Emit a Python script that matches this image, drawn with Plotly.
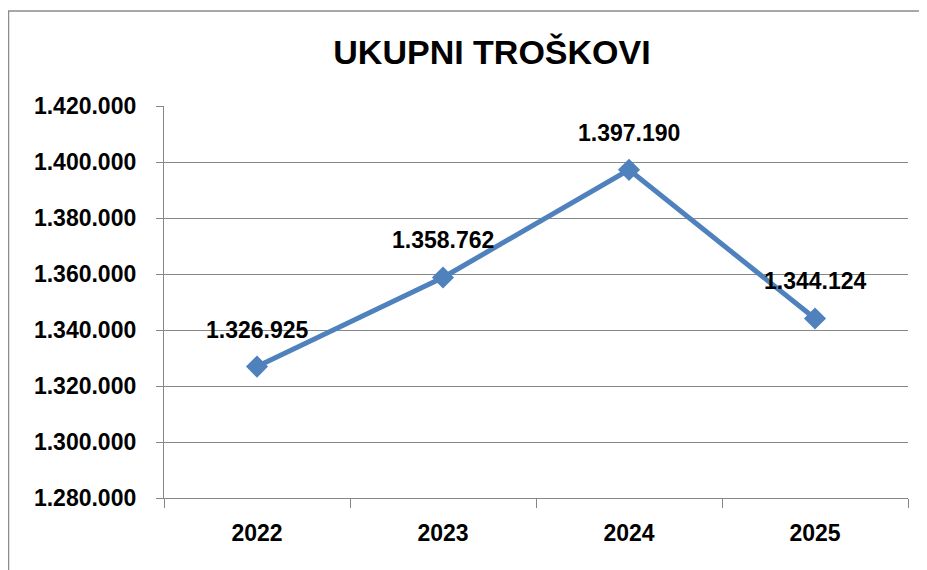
import plotly.graph_objects as go

years = ["2022", "2023", "2024", "2025"]
costs = [1326925, 1358762, 1397190, 1344124]
y_ticks = [1280000, 1300000, 1320000, 1340000, 1360000, 1380000, 1400000, 1420000]


def fmt(v):
    return f"{v:,}".replace(",", ".")


FONT = "Liberation Sans"
GRID = "#878787"
BLUE = "#4f81bd"
W, H = 919, 562  # the page body adds an 8px offset

pos = list(range(len(years)))
bounds = [p - 0.5 for p in pos] + [pos[-1] + 0.5]

fig = go.Figure()
fig.add_trace(
    go.Scatter(
        x=pos,
        y=costs,
        mode="lines+markers",
        line={"color": BLUE, "width": 5},
        marker={"symbol": "diamond", "size": 17, "color": BLUE},
        showlegend=False,
        hoverinfo="skip",
    )
)

for p, v in zip(pos, costs):
    fig.add_annotation(
        x=p, y=v, xref="x", yref="y", text=f"<b>{fmt(v)}</b>", showarrow=False,
        yshift=37, font={"family": FONT, "size": 23, "color": "#000000"},
    )

# outer chart border (partially cropped)
fig.add_shape(
    type="rect", xref="paper", yref="paper",
    x0=-0.209, x1=1.04, y0=-0.22, y1=1.2423,
    line={"color": "#8c8c8c", "width": 1.5}, fillcolor="rgba(0,0,0,0)", layer="below",
)

fig.update_xaxes(
    range=[bounds[0], bounds[-1]],
    tickvals=pos,
    ticktext=[f"<b>{y}</b>" for y in years],
    ticks="",
    minor={"tickvals": bounds, "ticks": "outside", "ticklen": 9,
           "tickcolor": GRID, "tickwidth": 1.3, "showgrid": False},
    tickangle=0,
    showgrid=False,
    zeroline=False,
    showline=True,
    linecolor=GRID,
    linewidth=1.3,
    tickfont={"family": FONT, "size": 23, "color": "#000000"},
    ticklabelstandoff=14,
)
fig.update_yaxes(
    range=[1280000, 1420000],
    tickvals=y_ticks,
    ticktext=[f"<b>{fmt(v)}</b>" for v in y_ticks],
    ticks="outside",
    ticklen=7,
    tickcolor=GRID,
    tickwidth=1.3,
    showgrid=True,
    gridcolor=GRID,
    gridwidth=1.3,
    zeroline=False,
    showline=True,
    linecolor=GRID,
    linewidth=1.3,
    tickfont={"family": FONT, "size": 23, "color": "#000000"},
    ticklabelstandoff=15,
)
fig.update_layout(
    width=W,
    height=H,
    margin={"l": 156, "r": 19, "t": 98, "b": 72},
    paper_bgcolor="#ffffff",
    plot_bgcolor="#ffffff",
    title={
        "text": "<b>UKUPNI TROŠKOVI</b>",
        "x": 484 / W,
        "xanchor": "center",
        "y": 1 - 44 / H,
        "yanchor": "middle",
        "font": {"family": FONT, "size": 34, "color": "#000000"},
    },
)

fig.write_html("out.html")
